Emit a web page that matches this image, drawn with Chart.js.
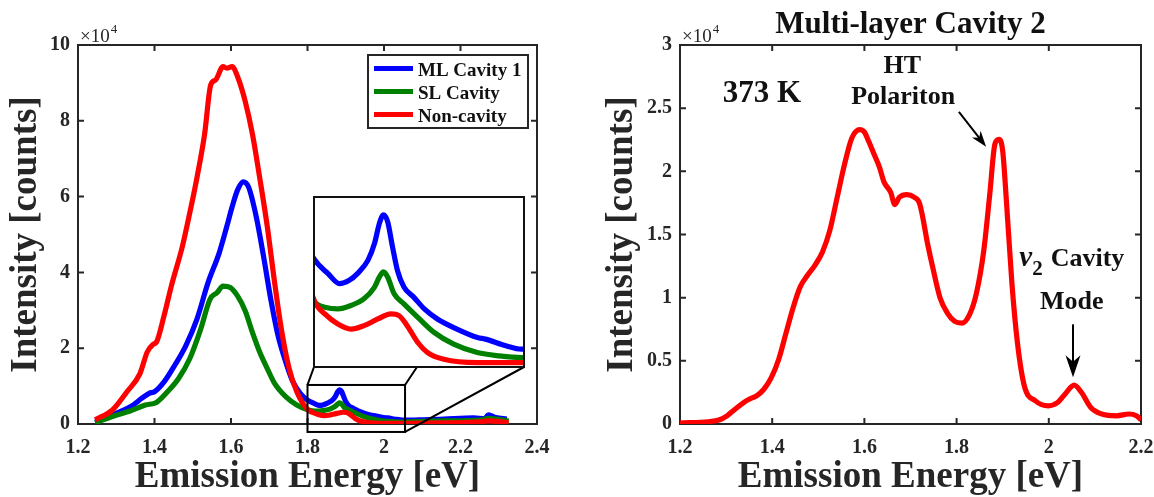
<!DOCTYPE html>
<html>
<head>
<meta charset="utf-8">
<script src="https://cdn.jsdelivr.net/npm/chart.js@4"></script>
<style>
  html, body { margin: 0; padding: 0; background: #fff; }
  #wrap { position: relative; width: 1154px; height: 497px; overflow: hidden; }
  .panel { position: absolute; top: 0; }
  #left { left: 0; }
  #right { left: 580px; }
  #zoom { position: absolute; left: 313px; top: 196px; width: 212px; height: 172px;
          border: 2px solid #111; background: #fff; box-sizing: border-box; }
  #zoom canvas { display: block; }
</style>
</head>
<body>
<div id="wrap">
  <div class="panel" id="left"><canvas id="spectraChart" width="580" height="497"></canvas></div>
  <div class="panel" id="right"><canvas id="cavityChart" width="590" height="497"></canvas></div>
  <div id="zoom"><canvas id="zoomChart" width="208" height="168"></canvas></div>
</div>
<script>
// Emission spectra, intensity in units of 1e4 counts
const mlEnergy = [1.245, 1.29, 1.338, 1.367, 1.386, 1.4, 1.425, 1.453, 1.482, 1.511, 1.54, 1.569, 1.589, 1.603,
  1.617, 1.632, 1.646, 1.666, 1.685, 1.704, 1.723, 1.743, 1.762, 1.781, 1.8, 1.816, 1.83, 1.842, 1.852, 1.865,
  1.873, 1.879, 1.884, 1.889, 1.895, 1.901, 1.909, 1.921, 1.934, 1.95, 1.974, 1.999, 2.009, 2.034, 2.053, 2.1,
  2.157, 2.234, 2.263, 2.273, 2.292, 2.321];
const mlIntensity = [0.05, 0.24, 0.46, 0.68, 0.81, 0.85, 1.11, 1.55, 2.07, 2.77, 3.73, 4.51, 5.21, 5.73,
  6.17, 6.39, 6.25, 5.47, 4.43, 3.29, 2.33, 1.64, 1.11, 0.81, 0.63, 0.55, 0.49, 0.51, 0.55, 0.63,
  0.73, 0.85, 0.9, 0.86, 0.71, 0.57, 0.47, 0.41, 0.34, 0.28, 0.22, 0.17, 0.16, 0.12, 0.1, 0.11,
  0.13, 0.16, 0.14, 0.24, 0.17, 0.13];

const slEnergy = [1.245, 1.29, 1.338, 1.376, 1.405, 1.434, 1.463, 1.492, 1.521, 1.545, 1.564, 1.579, 1.598,
  1.617, 1.637, 1.656, 1.675, 1.695, 1.714, 1.743, 1.772, 1.802, 1.812, 1.828, 1.844, 1.86, 1.873, 1.879,
  1.884, 1.889, 1.897, 1.909, 1.926, 1.946, 1.97, 1.999, 2.026, 2.053, 2.1, 2.157, 2.253, 2.272, 2.326];
const slIntensity = [0.03, 0.2, 0.35, 0.5, 0.57, 0.85, 1.2, 1.72, 2.51, 3.29, 3.47, 3.64, 3.6,
  3.38, 2.99, 2.42, 1.9, 1.46, 1.07, 0.72, 0.5, 0.37, 0.35, 0.34, 0.36, 0.4, 0.47, 0.53,
  0.56, 0.53, 0.43, 0.37, 0.29, 0.2, 0.13, 0.08, 0.06, 0.05, 0.07, 0.08, 0.1, 0.15, 0.08];

const ncEnergy = [1.245, 1.29, 1.328, 1.362, 1.381, 1.396, 1.405, 1.425, 1.444, 1.473, 1.492, 1.511, 1.531,
  1.547, 1.56, 1.579, 1.589, 1.603, 1.617, 1.637, 1.656, 1.675, 1.695, 1.714, 1.733, 1.752, 1.772, 1.8,
  1.812, 1.828, 1.844, 1.86, 1.877, 1.893, 1.903, 1.913, 1.926, 1.938, 1.958, 1.999, 2.053, 2.157, 2.253,
  2.272, 2.326];
const ncIntensity = [0.11, 0.37, 0.85, 1.33, 1.9, 2.1, 2.16, 2.86, 3.64, 4.69, 5.56, 6.5, 7.65,
  8.95, 9.08, 9.43, 9.39, 9.43, 9.17, 8.52, 7.65, 6.5, 5.2, 3.73, 2.42, 1.46, 0.85, 0.38,
  0.31, 0.25, 0.22, 0.24, 0.28, 0.31, 0.3, 0.24, 0.14, 0.08, 0.04, 0.02, 0.02, 0.03, 0.06,
  0.08, 0.04];

// Multi-layer cavity 2 at 373 K
const cav2Energy = [1.2, 1.262, 1.286, 1.302, 1.318, 1.338, 1.35, 1.366, 1.382, 1.398, 1.414, 1.43, 1.445,
  1.461, 1.477, 1.493, 1.509, 1.525, 1.541, 1.557, 1.573, 1.59, 1.6, 1.609, 1.621, 1.633, 1.642, 1.657,
  1.666, 1.676, 1.692, 1.708, 1.72, 1.738, 1.748, 1.764, 1.78, 1.796, 1.812, 1.828, 1.843, 1.859, 1.872,
  1.883, 1.892, 1.9, 1.908, 1.92, 1.932, 1.947, 1.971, 1.999, 2.019, 2.035, 2.055, 2.071, 2.091, 2.115,
  2.147, 2.174, 2.19, 2.2];
const cav2Intensity = [0.008, 0.018, 0.034, 0.065, 0.113, 0.17, 0.196, 0.223, 0.275, 0.367, 0.511, 0.72, 0.917,
  1.087, 1.179, 1.258, 1.362, 1.533, 1.795, 2.057, 2.266, 2.33, 2.31, 2.24, 2.135, 2.03, 1.92, 1.834,
  1.737, 1.795, 1.816, 1.795, 1.742, 1.41, 1.244, 1.0, 0.878, 0.812, 0.799, 0.865, 1.035, 1.375, 1.821,
  2.214, 2.253, 2.161, 1.769, 1.113, 0.642, 0.301, 0.183, 0.144, 0.17, 0.236, 0.307, 0.249, 0.131, 0.079,
  0.065, 0.079, 0.065, 0.034];

const seriesNames = ['ML Cavity 1', 'SL Cavity', 'Non-cavity'];
const seriesColors = ['#0000ff', '#008000', '#ff0000'];

const leftXTicks = [1.2, 1.4, 1.6, 1.8, 2.0, 2.2, 2.4];
const leftYTicks = [0, 2, 4, 6, 8, 10];
const rightXTicks = [1.2, 1.4, 1.6, 1.8, 2.0, 2.2];
const rightYTicks = [0, 0.5, 1, 1.5, 2, 2.5, 3];

// region that is blown up in the inset
const zoomEnergy = [1.8, 2.055];
const zoomIntensity = [-0.21, 1.03];
const insetIntensity = [0, 1];

const AXIS = '#262626';
const SERIF = 'Liberation Serif';
const LINE_W = 5.2;
const tickFont = { family: SERIF, weight: 'bold', size: 20 };
const titleFont = { family: SERIF, weight: 'bold', size: 37, lineHeight: 1 };

const pts = (xs, ys) => xs.map((x, i) => ({ x, y: ys[i] }));
const fmt = v => String(Math.round(v * 10) / 10);

function spectra(width) {
  return [[mlEnergy, mlIntensity], [slEnergy, slIntensity], [ncEnergy, ncIntensity]].map(([xs, ys], i) => ({
    label: seriesNames[i],
    data: pts(xs, ys),
    borderColor: seriesColors[i],
    borderWidth: width,
    pointRadius: 0,
    cubicInterpolationMode: 'monotone',
    order: 3 - i
  }));
}

// MATLAB style box axes; the inward tick marks are drawn by boxTicks
function boxScales(xRange, yRange, xTicks, yTicks, yWidth, yTitlePad) {
  const grid = { display: false, drawOnChartArea: false, drawTicks: false };
  const border = { display: true, color: AXIS, width: 2 };
  const setX = s => { s.ticks = xTicks.map(v => ({ value: v })); };
  const setY = s => { s.ticks = yTicks.map(v => ({ value: v })); };
  return {
    x: {
      type: 'linear', position: 'bottom', min: xRange[0], max: xRange[1],
      afterBuildTicks: setX, afterFit: s => { s.height = 73; },
      ticks: { color: AXIS, font: tickFont, padding: 12, maxRotation: 0, autoSkip: false, callback: fmt },
      grid, border,
      title: { display: true, text: 'Emission Energy [eV]', color: AXIS, font: titleFont, padding: { top: 0, bottom: 1 } }
    },
    y: {
      type: 'linear', position: 'left', min: yRange[0], max: yRange[1],
      afterBuildTicks: setY, afterFit: s => { s.width = yWidth; },
      ticks: { color: AXIS, font: tickFont, padding: 8, autoSkip: false, callback: fmt },
      grid, border,
      title: { display: true, text: 'Intensity [counts]', color: AXIS, font: titleFont, padding: { top: yTitlePad, bottom: 0 } }
    },
    x2: {
      type: 'linear', position: 'top', min: xRange[0], max: xRange[1],
      afterFit: s => { s.height = 0; },
      ticks: { display: false }, grid, border
    },
    y2: {
      type: 'linear', position: 'right', min: yRange[0], max: yRange[1],
      afterFit: s => { s.width = 0; },
      ticks: { display: false }, grid, border
    }
  };
}

// tick marks pointing into the plot on all four sides
const boxTicks = {
  id: 'boxTicks',
  beforeDatasetsDraw(chart) {
    const { ctx, chartArea: a, scales: { x, y } } = chart;
    const len = 6;
    ctx.save();
    ctx.strokeStyle = AXIS;
    ctx.lineWidth = 2;
    ctx.beginPath();
    x.ticks.forEach(t => {
      const p = x.getPixelForValue(t.value);
      ctx.moveTo(p, a.bottom); ctx.lineTo(p, a.bottom - len);
      ctx.moveTo(p, a.top); ctx.lineTo(p, a.top + len);
    });
    y.ticks.forEach(t => {
      const p = y.getPixelForValue(t.value);
      ctx.moveTo(a.left, p); ctx.lineTo(a.left + len, p);
      ctx.moveTo(a.right, p); ctx.lineTo(a.right - len, p);
    });
    ctx.stroke();
    ctx.restore();
  }
};

function exponentLabel(ctx, area) {
  ctx.save();
  ctx.fillStyle = AXIS;
  ctx.textAlign = 'left';
  ctx.textBaseline = 'alphabetic';
  ctx.font = '19px ' + SERIF;
  ctx.fillText('\u00d710', area.left + 2, 42);
  const w = ctx.measureText('\u00d710').width;
  ctx.font = '13px ' + SERIF;
  ctx.fillText('4', area.left + 3 + w, 33);
  ctx.restore();
}

function arrow(ctx, x1, y1, x2, y2, len, half) {
  const a = Math.atan2(y2 - y1, x2 - x1);
  const c = Math.cos(a), s = Math.sin(a);
  ctx.save();
  ctx.strokeStyle = '#000';
  ctx.fillStyle = '#000';
  ctx.lineWidth = 2;
  ctx.beginPath();
  ctx.moveTo(x1, y1);
  ctx.lineTo(x2 - len * 0.6 * c, y2 - len * 0.6 * s);
  ctx.stroke();
  const bx = x2 - len * c, by = y2 - len * s;
  ctx.beginPath();
  ctx.moveTo(x2, y2);
  ctx.lineTo(bx - half * s, by + half * c);
  ctx.lineTo(x2 - len * 0.7 * c, y2 - len * 0.7 * s);
  ctx.lineTo(bx + half * s, by - half * c);
  ctx.closePath();
  ctx.fill();
  ctx.restore();
}

// zoom box, connector lines, legend and exponent of the spectra panel
const spectraDecor = {
  id: 'spectraDecor',
  afterDraw(chart) {
    const { ctx, chartArea, scales: { x, y } } = chart;
    const bx0 = x.getPixelForValue(zoomEnergy[0]), bx1 = x.getPixelForValue(zoomEnergy[1]);
    const by0 = y.getPixelForValue(zoomIntensity[1]), by1 = y.getPixelForValue(zoomIntensity[0]);
    const inset = { left: 314, right: 524, bottom: 367 };
    ctx.save();
    ctx.strokeStyle = '#000';
    ctx.lineWidth = 2;
    ctx.strokeRect(bx0, by0, bx1 - bx0, by1 - by0);
    ctx.beginPath();
    ctx.moveTo(bx0, by0); ctx.lineTo(inset.left, inset.bottom);
    ctx.moveTo(bx1, by0); ctx.lineTo(417, inset.bottom);
    ctx.moveTo(bx1, by1); ctx.lineTo(inset.right, inset.bottom);
    ctx.stroke();

    // legend
    const lx = 368, ly = 55, lw = 160, lh = 73;
    ctx.fillStyle = '#fff';
    ctx.fillRect(lx, ly, lw, lh);
    ctx.strokeStyle = AXIS;
    ctx.strokeRect(lx, ly, lw, lh);
    ctx.font = 'bold 19px ' + SERIF;
    ctx.textBaseline = 'alphabetic';
    chart.data.datasets.forEach((ds, i) => {
      const ry = 68.5 + i * 23;
      ctx.strokeStyle = ds.borderColor;
      ctx.lineWidth = LINE_W;
      ctx.beginPath();
      ctx.moveTo(374, ry); ctx.lineTo(413, ry);
      ctx.stroke();
      ctx.fillStyle = '#111';
      ctx.fillText(ds.label, 418, ry + 7);
    });
    ctx.restore();
    exponentLabel(ctx, chartArea);
  }
};

// title, labels and arrows of the cavity panel
const cavityDecor = {
  id: 'cavityDecor',
  afterDraw(chart) {
    const { ctx, chartArea, scales: { x, y } } = chart;
    const px = v => x.getPixelForValue(v), py = v => y.getPixelForValue(v);
    ctx.save();
    ctx.fillStyle = '#111';
    ctx.textBaseline = 'alphabetic';
    ctx.textAlign = 'center';
    ctx.font = 'bold 31px ' + SERIF;
    ctx.fillText('Multi-layer Cavity 2', (chartArea.left + chartArea.right) / 2, 33);

    ctx.textAlign = 'left';
    ctx.fillText('373 K', px(1.293), py(2.55));

    ctx.textAlign = 'center';
    ctx.font = 'bold 26px ' + SERIF;
    ctx.fillText('HT', px(1.682), py(2.78));
    ctx.fillText('Polariton', px(1.684), py(2.535));
    ctx.fillText('Mode', px(2.05), py(0.908));

    // nu_2 Cavity
    ctx.textAlign = 'left';
    let cx = px(1.936);
    const base = py(1.247);
    ctx.font = 'italic bold 29px ' + SERIF;
    ctx.fillText('\u03bd', cx, base);
    cx += ctx.measureText('\u03bd').width;
    ctx.font = 'bold 21px ' + SERIF;
    ctx.fillText('2', cx, base + 9);
    ctx.font = 'bold 26px ' + SERIF;
    ctx.fillText('Cavity', px(2.004), base);
    ctx.restore();

    arrow(ctx, px(1.805), py(2.471), px(1.864), py(2.195), 16, 5.5);
    arrow(ctx, px(2.0525), py(0.789), px(2.0525), py(0.371), 22, 7.5);
    exponentLabel(ctx, chartArea);
  }
};

const common = {
  responsive: false,
  animation: false,
  events: [],
  plugins: { legend: { display: false }, tooltip: { enabled: false } }
};

new Chart(document.getElementById('spectraChart'), {
  type: 'line',
  data: { datasets: spectra(LINE_W) },
  options: {
    ...common,
    layout: { padding: { top: 45, right: 43, left: 0, bottom: 0 } },
    scales: boxScales([1.2, 2.4], [0, 10], leftXTicks, leftYTicks, 78, 8)
  },
  plugins: [boxTicks, spectraDecor]
});

new Chart(document.getElementById('cavityChart'), {
  type: 'line',
  data: {
    datasets: [{
      label: 'Multi-layer Cavity 2',
      data: pts(cav2Energy, cav2Intensity),
      borderColor: '#ff0000',
      borderWidth: LINE_W,
      pointRadius: 0,
      cubicInterpolationMode: 'monotone'
    }]
  },
  options: {
    ...common,
    layout: { padding: { top: 45, right: 29, left: 0, bottom: 0 } },
    scales: boxScales([1.2, 2.2], [0, 3], rightXTicks, rightYTicks, 100, 24)
  },
  plugins: [boxTicks, cavityDecor]
});

// inset: same spectra over the zoomed energy range
new Chart(document.getElementById('zoomChart'), {
  type: 'line',
  data: { datasets: spectra(LINE_W) },
  options: {
    ...common,
    layout: { padding: 0 },
    scales: {
      x: { type: 'linear', display: false, min: zoomEnergy[0], max: zoomEnergy[1] },
      y: { type: 'linear', display: false, min: insetIntensity[0], max: insetIntensity[1] }
    }
  }
});
</script>
</body>
</html>
